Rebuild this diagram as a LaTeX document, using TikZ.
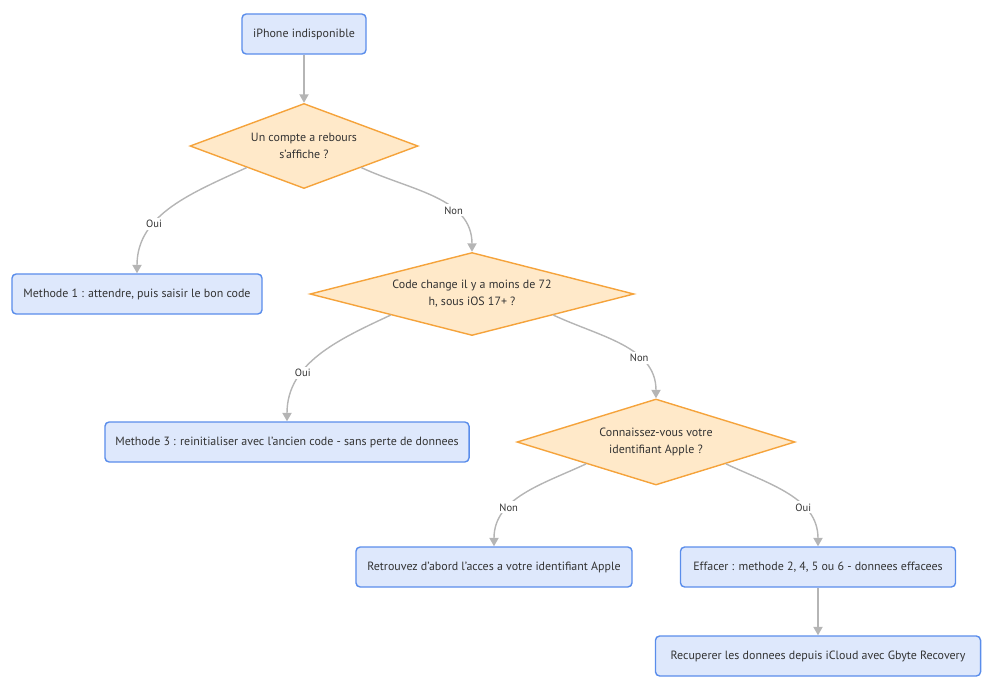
\documentclass[tikz,border=0pt]{standalone}
\usepackage{fontspec}
\setmainfont{PT Sans}
\usetikzlibrary{arrows.meta,shapes.geometric,positioning}

\definecolor{boxfill}{HTML}{DEE8FC}
\definecolor{boxline}{HTML}{5A8DEB}
\definecolor{choicefill}{HTML}{FFE9C9}
\definecolor{choiceline}{HTML}{F5A33B}
\definecolor{linkgrey}{HTML}{B5B5B5}
\definecolor{txt}{HTML}{333333}

\tikzset{
	stepbox/.style={rectangle, rounded corners=3pt, draw=boxline, fill=boxfill, line width=1pt,
		minimum height=1cm, font=\fontsize{8.5}{11}\selectfont, text=txt},
	choice/.style={diamond, draw=choiceline, fill=choicefill, line width=1pt, inner sep=0pt,
		align=center, font=\fontsize{8.5}{12}\selectfont, text=txt},
	link/.style={draw=linkgrey, line width=1pt, -{Triangle[length=6pt,width=6.5pt]}},
	tag/.style={fill=white, font=\fontsize{7.5}{8}\selectfont, text=txt, inner sep=1.5pt}
}

\begin{document}
\begin{tikzpicture}[x=0.025cm, y=-0.025cm]
	\useasboundingbox (0,0) rectangle (1000,691);

	\node [stepbox, minimum width=3.1cm]	(Unavailable)	at (304, 34)	{iPhone indisponible};
	\node [choice, aspect=2.68, minimum width=5.7cm, minimum height=2.125cm]	(Countdown)	at (304, 146)	{Un compte a rebours\\s'affiche ?};
	\node [stepbox, minimum width=6.25cm]	(MethodOne)	at (137, 294)	{Methode 1 : attendre, puis saisir le bon code};
	\node [choice, aspect=3.9, minimum width=8.1cm, minimum height=2.075cm]	(RecentChange)	at (472, 294)	{Code change il y a moins de 72\\h, sous iOS 17+ ?};
	\node [stepbox, minimum width=9.1cm]	(MethodThree)	at (287, 442)	{Methode 3 : reinitialiser avec l'ancien code - sans perte de donnees};
	\node [choice, aspect=3.23, minimum width=6.95cm, minimum height=2.15cm]	(KnowsId)	at (656, 442)	{Connaissez-vous votre\\identifiant Apple ?};
	\node [stepbox, minimum width=6.9cm]	(RecoverId)	at (494, 567)	{Retrouvez d'abord l'acces a votre identifiant Apple};
	\node [stepbox, minimum width=6.875cm]	(EraseDevice)	at (818, 567)	{Effacer : methode 2, 4, 5 ou 6 - donnees effacees};
	\node [stepbox, minimum width=8.125cm]	(RestoreData)	at (818, 656)	{Recuperer les donnees depuis iCloud avec Gbyte Recovery};

	\draw [link] (Unavailable) -- (Countdown);
	\draw [link] (Countdown.south west) to [out=-155, in=90] node [tag, pos=0.66] {Oui} (MethodOne.north);
	\draw [link] (Countdown.south east) to [out=-25, in=90] node [tag, pos=0.66] {Non} (RecentChange.north);
	\draw [link] (RecentChange.south west) to [out=-155, in=90] node [tag, pos=0.66] {Oui} (MethodThree.north);
	\draw [link] (RecentChange.south east) to [out=-25, in=90] node [tag, pos=0.66] {Non} (KnowsId.north);
	\draw [link] (KnowsId.south west) to [out=-155, in=90] node [tag, pos=0.66] {Non} (RecoverId.north);
	\draw [link] (KnowsId.south east) to [out=-25, in=90] node [tag, pos=0.66] {Oui} (EraseDevice.north);
	\draw [link] (EraseDevice) -- (RestoreData);
\end{tikzpicture}
\end{document}
